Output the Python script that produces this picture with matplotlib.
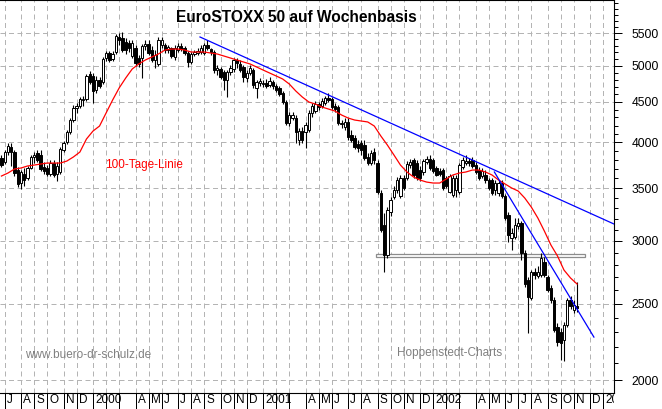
import numpy as np
import pandas as pd
import matplotlib
matplotlib.use('Agg')
import matplotlib.pyplot as plt
import matplotlib.dates as mdates
from matplotlib.ticker import FixedLocator, NullFormatter, FuncFormatter
from matplotlib.patches import Rectangle
from matplotlib.transforms import Bbox, TransformedBbox

plt.rcParams['font.family'] = ['Liberation Sans', 'DejaVu Sans']

# EuroSTOXX 50, weekly candles (Friday dates)
first_week = '1999-06-25'

opens = [3821, 3776, 3888, 3945, 3888, 3689, 3552, 3647, 3604, 3711,
         3832, 3877, 3855, 3722, 3711, 3647, 3765, 3647, 3668, 3911,
         4003, 4121, 4268, 4420, 4446, 4524, 4538, 4881, 4853, 4658,
         4796, 4768, 5114, 5189, 5099, 5204, 5437, 5421, 5358, 5342,
         5144, 5265, 5114, 5114, 5296, 5327, 5234, 5084, 5026, 5311,
         5311, 5234, 5265, 5129, 5234, 5296, 5265, 5189, 5055, 5174,
         5189, 5204, 5189, 5311, 5249, 5204, 4938, 4953, 4910, 4796,
         4910, 4953, 5084, 5026, 4982, 4824, 4895, 4938, 4686, 4755,
         4741, 4755, 4727, 4768, 4713, 4686, 4618, 4498, 4231, 4293,
         4293, 4026, 4133, 4121, 4145, 4356, 4381, 4472, 4446, 4485,
         4551, 4538, 4446, 4433, 4219, 4182, 4244, 4086, 4050, 3980,
         3991, 3968, 3832, 3765, 3888, 3765, 3450, 3143, 2880, 3264,
         3410, 3480, 3420, 3604, 3604, 3743, 3798, 3765, 3689, 3668,
         3776, 3809, 3798, 3711, 3678, 3689, 3604, 3460, 3430, 3480,
         3460, 3722, 3765, 3787, 3798, 3743, 3689, 3625, 3636, 3583,
         3583, 3480, 3450, 3552, 3420, 3236, 3026, 3035, 3134, 3161,
         2897, 2677, 2540, 2740, 2709, 2717, 2822, 2701, 2615, 2525,
         2334, 2300, 2247, 2348, 2525, 2453, 2482]

closes = [3743, 3888, 3957, 3888, 3657, 3542, 3668, 3583, 3711, 3832,
          3855, 3798, 3700, 3678, 3647, 3765, 3636, 3733, 3922, 3991,
          4121, 4268, 4420, 4446, 4538, 4538, 4853, 4768, 4645, 4796,
          4713, 5099, 5189, 5084, 5174, 5453, 5389, 5234, 5234, 5265,
          5342, 5040, 5026, 5296, 5327, 5189, 5084, 5159, 5389, 5389,
          5234, 5280, 5144, 5265, 5296, 5249, 5189, 5055, 5174, 5204,
          5219, 5265, 5311, 5265, 5204, 4938, 4967, 4839, 4796, 4910,
          4967, 5084, 5040, 4938, 4839, 4895, 4967, 4727, 4768, 4782,
          4755, 4713, 4782, 4713, 4658, 4604, 4498, 4231, 4331, 4331,
          4121, 4133, 4026, 4207, 4356, 4446, 4472, 4433, 4511, 4551,
          4524, 4433, 4407, 4231, 4231, 4244, 4062, 4026, 3945, 3934,
          3911, 3821, 3765, 3877, 3798, 3460, 3097, 2880, 3283, 3380,
          3480, 3583, 3604, 3501, 3754, 3776, 3636, 3604, 3604, 3787,
          3809, 3711, 3678, 3636, 3647, 3501, 3521, 3625, 3604, 3604,
          3743, 3798, 3787, 3765, 3733, 3668, 3604, 3678, 3583, 3501,
          3450, 3552, 3552, 3420, 3208, 3053, 3070, 3143, 3161, 2897,
          2646, 2548, 2740, 2717, 2740, 2855, 2717, 2600, 2525, 2314,
          2234, 2228, 2348, 2525, 2482, 2489, 2467]

highs = [3855, 3911, 3991, 3991, 3911, 3722, 3689, 3711, 3733, 3855,
         3888, 3911, 3911, 3776, 3743, 3798, 3798, 3776, 3945, 4014,
         4145, 4293, 4459, 4485, 4564, 4578, 4881, 4924, 4895, 4853,
         4839, 5129, 5219, 5219, 5219, 5485, 5501, 5517, 5421, 5389,
         5389, 5311, 5159, 5327, 5389, 5389, 5296, 5234, 5437, 5437,
         5342, 5311, 5280, 5311, 5342, 5342, 5296, 5219, 5204, 5234,
         5265, 5311, 5342, 5389, 5265, 5234, 5011, 4982, 4938, 4938,
         5011, 5114, 5114, 5084, 5011, 4938, 5011, 4967, 4796, 4824,
         4796, 4810, 4839, 4796, 4741, 4713, 4645, 4524, 4369, 4369,
         4331, 4170, 4182, 4244, 4394, 4485, 4511, 4498, 4551, 4578,
         4618, 4564, 4485, 4459, 4268, 4293, 4293, 4145, 4086, 4026,
         4026, 4026, 3877, 3911, 3934, 3798, 3480, 3255, 3312, 3410,
         3521, 3615, 3636, 3636, 3787, 3809, 3821, 3798, 3733, 3809,
         3843, 3855, 3821, 3733, 3711, 3711, 3625, 3647, 3636, 3636,
         3765, 3832, 3855, 3821, 3832, 3776, 3722, 3711, 3689, 3604,
         3604, 3583, 3583, 3583, 3440, 3264, 3115, 3208, 3208, 3180,
         2922, 2701, 2756, 2773, 2789, 2897, 2864, 2717, 2639, 2548,
         2362, 2328, 2368, 2540, 2555, 2525, 2662]

lows = [3722, 3754, 3855, 3733, 3625, 3511, 3490, 3521, 3583, 3700,
        3765, 3776, 3678, 3647, 3625, 3625, 3615, 3573, 3647, 3888,
        3980, 4097, 4244, 4356, 4420, 4446, 4511, 4741, 4485, 4618,
        4686, 4741, 5069, 5055, 5069, 5174, 5311, 5204, 5174, 5204,
        5114, 4996, 4982, 4824, 5234, 5159, 5055, 4967, 4996, 5265,
        5189, 5189, 5114, 5084, 5204, 5219, 5159, 4982, 5026, 5144,
        5159, 5174, 5159, 5234, 5159, 4895, 4867, 4810, 4658, 4564,
        4867, 4910, 4967, 4910, 4768, 4768, 4867, 4686, 4551, 4713,
        4699, 4686, 4699, 4672, 4631, 4578, 4472, 4207, 4194, 4268,
        3991, 3968, 3991, 3934, 4121, 4306, 4356, 4394, 4420, 4459,
        4498, 4407, 4369, 4207, 4170, 4145, 4026, 4003, 3922, 3888,
        3855, 3798, 3743, 3743, 3754, 3440, 3079, 2740, 2855, 3226,
        3390, 3450, 3400, 3480, 3583, 3711, 3604, 3583, 3573, 3636,
        3754, 3689, 3657, 3625, 3625, 3480, 3501, 3450, 3410, 3410,
        3440, 3700, 3743, 3733, 3711, 3647, 3583, 3604, 3552, 3480,
        3430, 3430, 3420, 3400, 3189, 2991, 2922, 3017, 3106, 2838,
        2623, 2294, 2525, 2685, 2693, 2701, 2701, 2585, 2503, 2300,
        2209, 2120, 2114, 2334, 2460, 2432, 2439]

# 100-Tage-Linie, every second week
ma100 = [3625, 3657, 3700, 3711, 3733, 3743, 3754, 3765, 3765, 3765,
         3787, 3832, 3888, 4038, 4133, 4194, 4356, 4524, 4686, 4824,
         4953, 5026, 5084, 5129, 5174, 5234, 5249, 5249, 5234, 5204,
         5204, 5204, 5189, 5174, 5144, 5114, 5084, 5055, 5026, 4982,
         4938, 4895, 4853, 4810, 4741, 4645, 4564, 4498, 4472, 4433,
         4407, 4381, 4331, 4293, 4268, 4256, 4244, 4194, 4074, 3968,
         3855, 3743, 3668, 3615, 3583, 3562, 3552, 3552, 3594, 3636,
         3657, 3668, 3689, 3689, 3668, 3636, 3583, 3542, 3501, 3470,
         3400, 3312, 3208, 3088, 2965, 2872, 2756, 2693, 2646]

# trend lines (date, value) and the support band
trend_long = [('2000-08-23', 5437), ('2003-01-26', 3152)]
trend_short = [('2002-05-15', 3668), ('2002-12-14', 2267)]
support_band = ('2001-09-03', '2002-11-25', 2864, 2889)

y_major = [2000, 2500, 3000, 3500, 4000, 4500, 5000, 5500]
month_letters = 'JFMAMJJASOND'

W, H = 662, 409
fig = plt.figure(figsize=(W / 100, H / 100), dpi=100)
ax = fig.add_axes([0, 16 / H, 614 / W, 393 / H])

dates = mdates.date2num(pd.date_range(first_week, periods=len(closes), freq='7D'))
o = np.array(opens, float)
c = np.array(closes, float)
hi = np.maximum(np.array(highs, float), np.maximum(o, c))
lo = np.minimum(np.array(lows, float), np.minimum(o, c))

ax.vlines(dates, lo, hi, color='black', lw=0.8, zorder=3)
body_col = ['white' if cc >= oo else 'black' for oo, cc in zip(o, c)]
ax.bar(dates, np.abs(c - o), bottom=np.minimum(o, c), width=5,
       color=body_col, edgecolor='black', lw=0.7, zorder=4)

ax.plot(dates[::2], ma100, color='#ff0000', lw=0.9, zorder=5)

for line in (trend_long, trend_short):
    xs = mdates.date2num(pd.to_datetime([p[0] for p in line]))
    ax.plot(xs, [p[1] for p in line], color='#0000ff', lw=0.9, zorder=5)

b0, b1 = mdates.date2num(pd.to_datetime([support_band[0], support_band[1]]))
ax.add_patch(Rectangle((b0, support_band[2]), b1 - b0,
                       support_band[3] - support_band[2],
                       facecolor='white', edgecolor='#8c8c8c', lw=0.9, zorder=2.5))

ax.set_yscale('log')
ax.set_xlim(mdates.date2num(pd.Timestamp('1999-06-22')),
            mdates.date2num(pd.Timestamp('2003-01-26')))
ax.set_ylim(1926, 6056)

ax.yaxis.tick_right()
ax.yaxis.set_major_locator(FixedLocator(y_major))
ax.yaxis.set_major_formatter(FuncFormatter(lambda v, p: f'{v:.0f}'))
ax.yaxis.set_minor_locator(FixedLocator([v for v in range(1900, 6200, 100)
                                         if v not in y_major]))
ax.yaxis.set_minor_formatter(NullFormatter())
ax.tick_params(axis='y', which='major', length=5.8, width=0.72, pad=7,
               labelsize=8.7, direction='out')
ax.tick_params(axis='y', which='minor', length=3, width=0.72, direction='out')

# month ticks sit on the first weekly candle of each month
fridays = pd.date_range(first_week, '2003-01-31', freq='7D')
month_ticks = [d for d in fridays if d.day <= 7]
ax.set_xticks(mdates.date2num(month_ticks))
ax.tick_params(axis='x', which='major', length=11.5, width=0.72,
               direction='out', labelbottom=False)
ax.xaxis.set_minor_locator(FixedLocator([]))

clip = TransformedBbox(Bbox([[0, 0], [614 / W, 1]]), fig.transFigure)
for d in month_ticks:
    if d.month == 1:
        lab = str(d.year)
    elif d.month in (2, 3):
        continue
    else:
        lab = month_letters[d.month - 1]
    t = ax.annotate(lab, (mdates.date2num(d), 0),
                    xycoords=('data', 'axes fraction'),
                    xytext=(1.6, -5.3), textcoords='offset points',
                    ha='left', va='center', fontsize=8.5, annotation_clip=False)
    t.set_clip_box(clip)
    t.set_clip_on(True)

ax.grid(True, which='major', color='#b4b4b4', lw=0.72, linestyle=(0, (5, 3.5)))
ax.set_axisbelow(True)

ax.spines['left'].set_visible(False)
for s in ('top', 'right', 'bottom'):
    ax.spines[s].set_linewidth(0.8)
    ax.spines[s].set_color('black')

fig.text(296.5 / W, 1 - 17.5 / H, 'EuroSTOXX 50 auf Wochenbasis',
         ha='center', va='center', fontsize=11.2, fontweight='bold')
fig.text(105 / W, 1 - 165 / H, '100-Tage-Linie', color='#ff0000',
         ha='left', va='center', fontsize=8.5)
fig.text(25 / W, 1 - 355 / H, 'www.buero-dr-schulz.de', color='#808080',
         ha='left', va='center', fontsize=8.5)
fig.text(397 / W, 1 - 353 / H, 'Hoppenstedt-Charts', color='#808080',
         ha='left', va='center', fontsize=8.5)

fig.savefig('out.png', dpi=100)
